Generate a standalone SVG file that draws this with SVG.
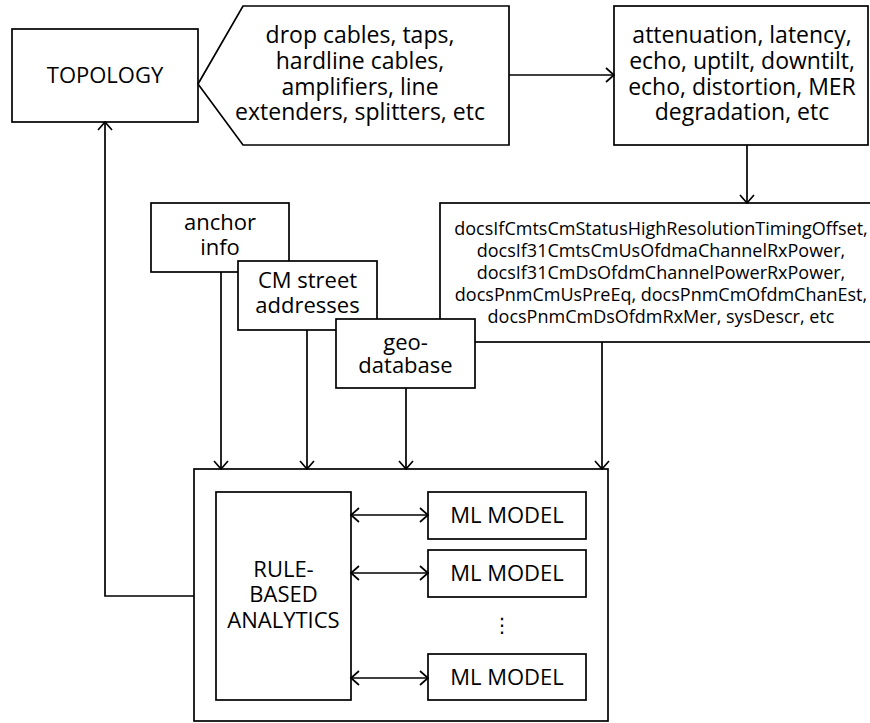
<svg xmlns="http://www.w3.org/2000/svg" width="870" height="723" viewBox="0 0 870 723">
<style>
.box{fill:#fff;stroke:#000;stroke-width:1.7}
.ln{fill:none;stroke:#000;stroke-width:1.7}
.t{font-family:"Open Sans","Liberation Sans",sans-serif;font-size:22px;fill:#000;text-anchor:middle}
.b{font-family:"Open Sans","Liberation Sans",sans-serif;font-size:23px;fill:#000;text-anchor:middle}
.s{font-family:"Open Sans","Liberation Sans",sans-serif;font-size:18px;fill:#000;text-anchor:middle}
.d{font-family:"DejaVu Sans",sans-serif;font-size:20px;fill:#000;text-anchor:middle}
</style>
<defs>
<marker id="arr" viewBox="-10 -9 12 18" refX="0" refY="0" markerWidth="12" markerHeight="18" markerUnits="userSpaceOnUse" orient="auto-start-reverse">
<path d="M-8,-7 L0,0 L-8,7" fill="none" stroke="#000" stroke-width="1.7"/>
</marker>
</defs>
<rect x="0" y="0" width="870" height="723" fill="#fff"/>
<g id="topology">
<rect class="box" x="12" y="29" width="186" height="93"/>
<text class="t" x="105" y="83">TOPOLOGY</text>
</g>
<g id="components">
<polygon class="box" points="198,84 243,6 509,6 509,145 243,145"/>
<text class="b" x="360" y="43">drop cables, taps,</text>
<text class="b" x="360" y="69">hardline cables,</text>
<text class="b" x="360" y="95">amplifiers, line</text>
<text class="b" x="360" y="120">extenders, splitters, etc</text>
</g>
<g id="impairments">
<rect class="box" x="614" y="6" width="254" height="139"/>
<text class="b" x="742" y="43">attenuation, latency,</text>
<text class="b" x="742" y="69">echo, uptilt, downtilt,</text>
<text class="b" x="742" y="95">echo, distortion, MER</text>
<text class="b" x="742" y="120">degradation, etc</text>
</g>
<g id="anchor-info">
<rect class="box" x="151" y="203" width="138" height="69"/>
<text class="t" x="220" y="230">anchor</text>
<text class="t" x="220" y="255">info</text>
</g>
<g id="cm-street-addresses">
<rect class="box" x="238" y="261" width="139" height="69"/>
<text class="t" x="307.5" y="288">CM street</text>
<text class="t" x="307.5" y="313">addresses</text>
</g>
<g id="mib-data">
<rect class="box" x="440" y="203" width="440" height="139"/>
<text class="s" x="661" y="235">docsIfCmtsCmStatusHighResolutionTimingOffset,</text>
<text class="s" x="661" y="257">docsIf31CmtsCmUsOfdmaChannelRxPower,</text>
<text class="s" x="661" y="279">docsIf31CmDsOfdmChannelPowerRxPower,</text>
<text class="s" x="661" y="301">docsPnmCmUsPreEq, docsPnmCmOfdmChanEst,</text>
<text class="s" x="661" y="323">docsPnmCmDsOfdmRxMer, sysDescr, etc</text>
</g>
<g id="geo-database">
<rect class="box" x="336" y="319" width="139" height="69"/>
<text class="t" x="405.5" y="350">geo-</text>
<text class="t" x="405.5" y="373">database</text>
</g>
<g id="analytics">
<rect class="box" x="194" y="469" width="414" height="252"/>
</g>
<g id="rule-based">
<rect class="box" x="216" y="492" width="135" height="208"/>
<text class="t" x="283.5" y="577">RULE-</text>
<text class="t" x="283.5" y="602">BASED</text>
<text class="t" x="283.5" y="628">ANALYTICS</text>
</g>
<g id="ml-model-1">
<rect class="box" x="428" y="492" width="158" height="47"/>
<text class="t" x="507" y="523">ML MODEL</text>
</g>
<g id="ml-model-2">
<rect class="box" x="428" y="550" width="158" height="47"/>
<text class="t" x="507" y="581">ML MODEL</text>
</g>
<g id="ellipsis">
<text class="d" x="502" y="632">⋮</text>
</g>
<g id="ml-model-3">
<rect class="box" x="428" y="654" width="158" height="46"/>
<text class="t" x="507" y="685">ML MODEL</text>
</g>
<g id="connectors">
<line class="ln" x1="509" y1="75" x2="614" y2="75" marker-end="url(#arr)"/>
<line class="ln" x1="747" y1="145" x2="747" y2="203" marker-end="url(#arr)"/>
<line class="ln" x1="221" y1="272" x2="221" y2="469" marker-end="url(#arr)"/>
<line class="ln" x1="307" y1="330" x2="307" y2="469" marker-end="url(#arr)"/>
<line class="ln" x1="406" y1="388" x2="406" y2="469" marker-end="url(#arr)"/>
<line class="ln" x1="602" y1="342" x2="602" y2="469" marker-end="url(#arr)"/>
<polyline class="ln" points="194,596 105,596 105,122" marker-end="url(#arr)"/>
<line class="ln" x1="351" y1="515" x2="428" y2="515" marker-start="url(#arr)" marker-end="url(#arr)"/>
<line class="ln" x1="351" y1="573" x2="428" y2="573" marker-start="url(#arr)" marker-end="url(#arr)"/>
<line class="ln" x1="351" y1="678" x2="428" y2="678" marker-start="url(#arr)" marker-end="url(#arr)"/>
</g>
</svg>
